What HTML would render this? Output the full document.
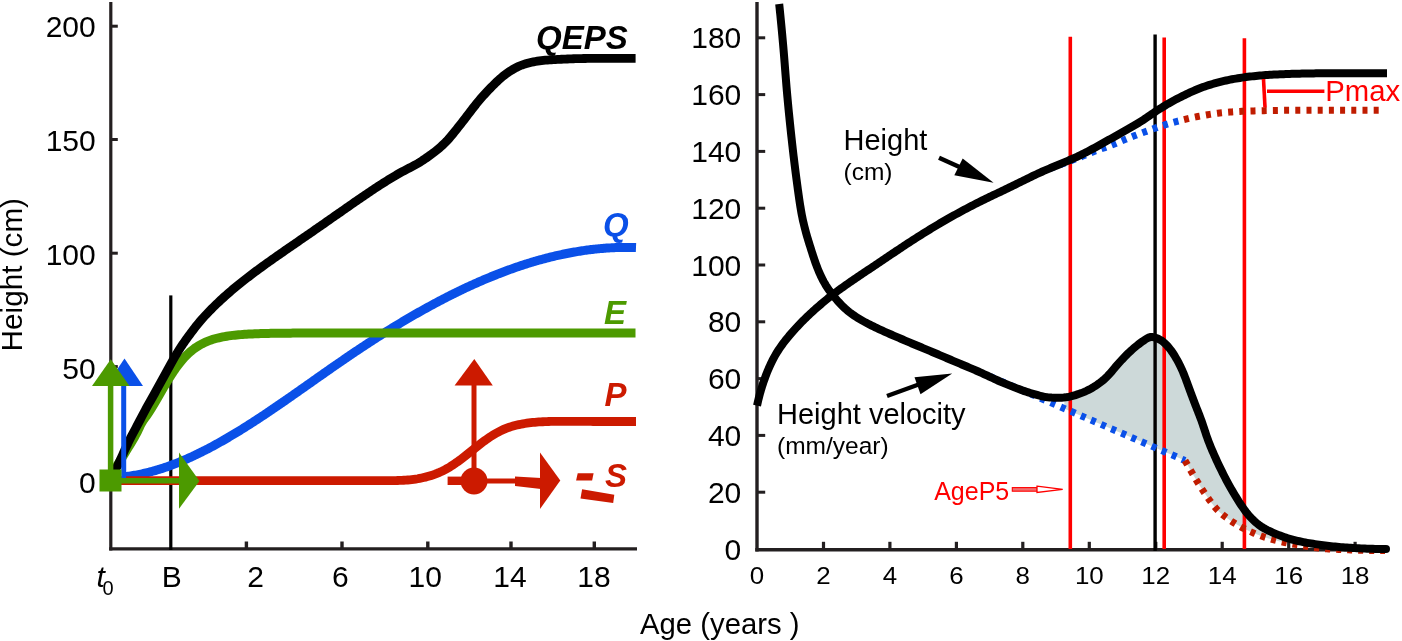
<!DOCTYPE html>
<html><head><meta charset="utf-8"><style>
html,body{margin:0;padding:0;background:#fff;}
body{width:1402px;height:641px;overflow:hidden;}
svg{display:block;font-family:'Liberation Sans', sans-serif;will-change:transform;}
</style></head><body>
<svg width="1402" height="641" viewBox="0 0 1402 641">
<rect width="1402" height="641" fill="#fff"/>
<path d="M1064.7,397.5 L1065.7,397.3 L1066.7,397.2 L1067.7,397.1 L1068.6,396.9 L1069.6,396.7 L1070.6,396.4 L1071.6,396.2 L1072.6,395.9 L1073.5,395.6 L1074.5,395.3 L1075.5,395.0 L1076.4,394.7 L1077.4,394.4 L1078.3,394.1 L1079.3,393.8 L1080.2,393.5 L1081.2,393.1 L1082.1,392.8 L1083.0,392.4 L1084.0,392.0 L1084.9,391.6 L1085.8,391.2 L1086.7,390.8 L1087.6,390.3 L1088.5,389.9 L1089.4,389.4 L1090.3,388.9 L1091.2,388.4 L1092.0,387.9 L1092.9,387.4 L1093.7,386.9 L1094.6,386.4 L1095.5,385.8 L1096.3,385.3 L1097.1,384.7 L1098.0,384.2 L1098.8,383.6 L1099.6,383.0 L1100.4,382.4 L1101.2,381.8 L1102.0,381.2 L1102.8,380.5 L1103.5,379.9 L1104.3,379.2 L1105.0,378.6 L1105.7,377.9 L1106.5,377.2 L1107.2,376.5 L1107.8,375.8 L1108.5,375.1 L1109.2,374.3 L1109.9,373.6 L1110.5,372.8 L1111.2,372.1 L1111.8,371.3 L1112.5,370.5 L1113.1,369.7 L1113.8,369.0 L1114.4,368.2 L1115.1,367.4 L1115.7,366.7 L1116.4,365.9 L1117.0,365.1 L1117.7,364.4 L1118.4,363.6 L1119.0,362.9 L1119.7,362.1 L1120.4,361.4 L1121.1,360.7 L1121.8,359.9 L1122.4,359.2 L1123.1,358.5 L1123.8,357.7 L1124.5,357.0 L1125.2,356.3 L1125.9,355.6 L1126.6,354.8 L1127.3,354.1 L1128.0,353.4 L1128.7,352.7 L1129.5,352.1 L1130.2,351.4 L1130.9,350.7 L1131.7,350.0 L1132.4,349.4 L1133.2,348.7 L1133.9,348.0 L1134.7,347.4 L1135.5,346.8 L1136.3,346.1 L1137.0,345.5 L1137.8,344.9 L1138.6,344.3 L1139.4,343.7 L1140.2,343.0 L1141.1,342.5 L1141.9,341.9 L1142.7,341.3 L1143.5,340.6 L1144.4,340.1 L1145.2,339.5 L1146.1,338.9 L1147.0,338.4 L1147.8,337.9 L1148.7,337.6 L1149.6,337.3 L1150.5,337.1 L1151.5,337.0 L1152.4,337.0 L1153.3,337.1 L1154.3,337.3 L1155.2,337.6 L1156.2,337.9 L1157.1,338.3 L1158.0,338.7 L1158.9,339.1 L1159.8,339.6 L1160.7,340.1 L1161.5,340.7 L1162.3,341.2 L1163.1,341.8 L1163.9,342.5 L1164.6,343.2 L1165.4,343.8 L1166.1,344.6 L1166.8,345.3 L1167.5,346.0 L1168.1,346.8 L1168.8,347.5 L1169.4,348.3 L1170.0,349.1 L1170.7,349.9 L1171.3,350.7 L1171.8,351.5 L1172.4,352.3 L1173.0,353.2 L1173.5,354.0 L1174.1,354.9 L1174.6,355.7 L1175.1,356.6 L1175.6,357.4 L1176.1,358.3 L1176.6,359.2 L1177.1,360.1 L1177.6,360.9 L1178.1,361.8 L1178.6,362.7 L1179.0,363.6 L1179.5,364.5 L1179.9,365.4 L1180.4,366.3 L1180.8,367.2 L1181.2,368.1 L1181.6,369.0 L1182.1,369.9 L1182.5,370.8 L1182.9,371.8 L1183.2,372.7 L1183.6,373.6 L1184.0,374.5 L1184.4,375.5 L1184.7,376.4 L1185.1,377.3 L1185.5,378.3 L1185.8,379.2 L1186.1,380.1 L1186.5,381.1 L1186.8,382.0 L1187.2,383.0 L1187.5,383.9 L1187.9,384.9 L1188.2,385.8 L1188.5,386.7 L1188.9,387.7 L1189.2,388.6 L1189.6,389.6 L1189.9,390.5 L1190.3,391.4 L1190.6,392.4 L1191.0,393.3 L1191.3,394.3 L1191.7,395.2 L1192.0,396.1 L1192.4,397.1 L1192.7,398.0 L1193.1,399.0 L1193.4,399.9 L1193.8,400.8 L1194.2,401.8 L1194.5,402.7 L1194.9,403.6 L1195.2,404.6 L1195.6,405.5 L1196.0,406.4 L1196.3,407.4 L1196.7,408.3 L1197.1,409.2 L1197.4,410.2 L1197.8,411.1 L1198.2,412.0 L1198.5,413.0 L1198.9,413.9 L1199.3,414.8 L1199.6,415.8 L1200.0,416.7 L1200.3,417.6 L1200.7,418.6 L1201.0,419.5 L1201.4,420.5 L1201.7,421.4 L1202.1,422.3 L1202.4,423.3 L1202.7,424.2 L1203.0,425.2 L1203.3,426.1 L1203.7,427.1 L1204.0,428.0 L1204.3,429.0 L1204.6,429.9 L1204.9,430.9 L1205.2,431.9 L1205.5,432.8 L1205.8,433.8 L1206.2,434.7 L1206.5,435.7 L1206.8,436.6 L1207.1,437.5 L1207.5,438.5 L1207.8,439.4 L1208.2,440.4 L1208.5,441.3 L1208.9,442.2 L1209.2,443.2 L1209.6,444.1 L1210.0,445.0 L1210.4,446.0 L1210.7,446.9 L1211.1,447.8 L1211.5,448.7 L1211.9,449.7 L1212.3,450.6 L1212.7,451.5 L1213.1,452.4 L1213.5,453.3 L1213.9,454.3 L1214.3,455.2 L1214.7,456.1 L1215.1,457.0 L1215.5,457.9 L1215.9,458.8 L1216.4,459.8 L1216.8,460.7 L1217.2,461.6 L1217.6,462.5 L1218.0,463.4 L1218.5,464.3 L1218.9,465.2 L1219.3,466.1 L1219.8,467.0 L1220.2,467.9 L1220.6,468.8 L1221.1,469.7 L1221.5,470.6 L1222.0,471.5 L1222.4,472.4 L1222.9,473.3 L1223.3,474.2 L1223.8,475.1 L1224.2,476.0 L1224.7,476.9 L1225.1,477.8 L1225.6,478.6 L1226.1,479.5 L1226.5,480.4 L1227.0,481.3 L1227.5,482.2 L1228.0,483.1 L1228.4,483.9 L1228.9,484.8 L1229.4,485.7 L1229.9,486.6 L1230.4,487.5 L1230.9,488.3 L1231.4,489.2 L1231.9,490.1 L1232.4,490.9 L1232.9,491.8 L1233.4,492.7 L1233.9,493.5 L1234.4,494.4 L1234.9,495.2 L1235.5,496.1 L1236.0,497.0 L1236.5,497.8 L1237.0,498.7 L1237.6,499.5 L1238.1,500.4 L1238.6,501.2 L1239.2,502.1 L1239.7,502.9 L1240.3,503.8 L1240.8,504.6 L1241.4,505.4 L1242.0,506.3 L1242.5,507.1 L1243.1,507.9 L1243.7,508.8 L1244.3,509.6 L1244.9,510.4 L1245.5,511.2 L1246.1,512.0 L1246.7,512.7 L1247.3,513.5 L1247.9,514.3 L1248.6,515.0 L1249.2,515.8 L1249.9,516.5 L1250.6,517.3 L1251.3,518.0 L1252.0,518.7 L1252.7,519.5 L1253.4,520.2 L1254.1,520.9 L1254.9,521.5 L1255.6,522.2 L1256.4,522.9 L1257.2,523.5 L1257.9,524.1 L1258.7,524.7 L1259.5,525.3 L1260.3,525.9 L1261.1,526.5 L1262.0,527.0 L1262.8,527.5 L1263.7,528.0 L1264.5,528.5 L1265.4,529.0 L1266.3,529.5 L1267.2,530.0 L1268.1,530.4 L1269.0,530.9 L1269.9,531.3 L1270.8,531.7 L1271.7,532.1 L1272.7,532.6 L1273.6,533.0 L1274.5,533.4 L1275.4,533.7 L1276.3,534.1 L1277.3,534.5 L1278.2,534.9 L1279.1,535.2 L1280.1,535.6 L1281.0,535.9 L1282.0,536.3 L1282.9,536.6 L1283.9,537.0 L1284.8,537.3 L1285.8,537.6 L1286.7,537.9 L1287.7,538.2 L1288.6,538.5 L1289.6,538.8 L1290.6,539.1 L1291.5,539.3 L1292.5,539.6 L1293.5,539.9 L1294.4,540.1 L1295.4,540.3 L1296.4,540.6 L1297.3,540.8 L1298.3,541.0 L1299.3,541.3 L1300.3,541.5 L1301.3,541.7 L1302.2,541.9 L1303.2,542.1 L1304.2,542.3 L1305.2,542.5 L1306.2,542.7 L1307.2,542.8 L1308.2,543.0 L1309.1,543.2 L1310.1,543.3 L1311.1,543.5 L1312.1,543.7 L1313.1,543.8 L1314.1,544.0 L1315.1,544.1 L1316.1,544.2 L1317.1,544.4 L1318.0,544.5 L1319.0,544.7 L1320.0,544.8 L1321.0,544.9 L1322.0,545.1 L1323.0,545.2 L1324.0,545.3 L1325.0,545.5 L1326.0,545.6 L1327.0,545.7 L1328.0,545.8 L1329.0,545.9 L1330.0,546.1 L1331.0,546.2 L1332.0,546.3 L1333.0,546.4 L1334.0,546.5 L1335.0,546.6 L1336.0,546.7 L1337.0,546.8 L1338.0,546.9 L1339.0,547.0 L1340.0,547.1 L1341.0,547.2 L1342.0,547.2 L1343.0,547.3 L1344.0,547.4 L1345.0,547.5 L1346.0,547.5 L1347.0,547.6 L1348.0,547.7 L1349.0,547.7 L1350.0,547.8 L1351.0,547.8 L1351.9,547.9 L1352.9,547.9 L1353.9,548.0 L1354.9,548.1 L1355.9,548.1 L1356.9,548.2 L1357.9,548.2 L1358.9,548.3 L1359.9,548.3 L1360.9,548.4 L1361.9,548.4 L1362.9,548.5 L1363.9,548.5 L1364.9,548.6 L1366.0,548.6 L1367.0,548.6 L1368.0,548.7 L1369.0,548.7 L1370.0,548.8 L1371.0,548.8 L1372.0,548.8 L1373.0,548.9 L1374.0,548.9 L1375.0,548.9 L1376.0,549.0 L1377.0,549.0 L1378.0,549.0 L1379.0,549.0 L1380.0,549.0 L1381.0,549.1 L1382.0,549.1 L1383.0,549.1 L1384.0,549.1 L1385.0,549.1 L1386.0,549.1 L1386.0,551.0 L1385.0,550.6 L1384.0,550.6 L1383.0,550.6 L1382.0,550.6 L1381.0,550.6 L1379.9,550.6 L1378.9,550.6 L1377.9,550.6 L1376.9,550.6 L1375.9,550.5 L1374.9,550.5 L1373.9,550.5 L1372.9,550.5 L1371.9,550.5 L1370.9,550.5 L1369.8,550.5 L1368.8,550.4 L1367.8,550.4 L1366.8,550.4 L1365.8,550.4 L1364.8,550.3 L1363.8,550.3 L1362.8,550.3 L1361.8,550.3 L1360.8,550.2 L1359.8,550.2 L1358.8,550.2 L1357.7,550.2 L1356.7,550.1 L1355.7,550.1 L1354.7,550.1 L1353.7,550.0 L1352.7,550.0 L1351.7,550.0 L1350.7,549.9 L1349.7,549.9 L1348.7,549.8 L1347.7,549.8 L1346.7,549.8 L1345.7,549.7 L1344.7,549.7 L1343.7,549.6 L1342.7,549.6 L1341.7,549.6 L1340.7,549.5 L1339.7,549.5 L1338.6,549.4 L1337.6,549.4 L1336.6,549.3 L1335.6,549.3 L1334.6,549.2 L1333.6,549.2 L1332.6,549.1 L1331.6,549.1 L1330.6,549.0 L1329.6,549.0 L1328.6,548.9 L1327.6,548.8 L1326.6,548.8 L1325.6,548.7 L1324.6,548.6 L1323.6,548.5 L1322.6,548.4 L1321.6,548.3 L1320.6,548.2 L1319.6,548.1 L1318.6,548.0 L1317.6,547.9 L1316.6,547.8 L1315.6,547.6 L1314.6,547.5 L1313.6,547.4 L1312.6,547.2 L1311.6,547.1 L1310.6,546.9 L1309.6,546.8 L1308.6,546.6 L1307.6,546.5 L1306.6,546.3 L1305.6,546.1 L1304.6,546.0 L1303.6,545.8 L1302.6,545.7 L1301.6,545.5 L1300.6,545.3 L1299.6,545.1 L1298.7,545.0 L1297.7,544.8 L1296.7,544.6 L1295.7,544.5 L1294.7,544.3 L1293.7,544.1 L1292.7,543.9 L1291.7,543.8 L1290.7,543.6 L1289.7,543.4 L1288.7,543.2 L1287.7,543.0 L1286.7,542.9 L1285.8,542.7 L1284.8,542.5 L1283.8,542.3 L1282.8,542.1 L1281.8,541.8 L1280.8,541.6 L1279.8,541.4 L1278.9,541.2 L1277.9,541.0 L1276.9,540.7 L1275.9,540.5 L1274.9,540.2 L1274.0,540.0 L1273.0,539.7 L1272.0,539.5 L1271.1,539.2 L1270.1,538.9 L1269.1,538.6 L1268.2,538.4 L1267.2,538.1 L1266.2,537.7 L1265.3,537.4 L1264.3,537.1 L1263.4,536.8 L1262.4,536.4 L1261.5,536.1 L1260.5,535.8 L1259.6,535.4 L1258.6,535.0 L1257.7,534.7 L1256.7,534.3 L1255.8,533.9 L1254.9,533.6 L1254.0,533.2 L1253.0,532.8 L1252.1,532.4 L1251.2,532.0 L1250.3,531.6 L1249.3,531.2 L1248.4,530.7 L1247.5,530.3 L1246.6,529.9 L1245.7,529.4 L1244.8,529.0 L1243.9,528.5 L1243.0,528.1 L1242.1,527.6 L1241.2,527.1 L1240.3,526.6 L1239.4,526.1 L1238.6,525.6 L1237.7,525.1 L1236.8,524.6 L1236.0,524.1 L1235.1,523.6 L1234.3,523.1 L1233.4,522.5 L1232.5,522.0 L1231.7,521.4 L1230.9,520.9 L1230.0,520.3 L1229.2,519.7 L1228.3,519.1 L1227.5,518.5 L1226.7,517.9 L1225.9,517.3 L1225.1,516.7 L1224.3,516.1 L1223.5,515.5 L1222.7,514.8 L1221.9,514.2 L1221.2,513.5 L1220.4,512.9 L1219.7,512.2 L1218.9,511.5 L1218.2,510.8 L1217.5,510.1 L1216.8,509.4 L1216.2,508.7 L1215.5,507.9 L1214.9,507.2 L1214.2,506.4 L1213.6,505.6 L1213.0,504.8 L1212.4,504.0 L1211.7,503.2 L1211.1,502.4 L1210.5,501.6 L1210.0,500.7 L1209.4,499.9 L1208.8,499.1 L1208.2,498.3 L1207.6,497.4 L1207.0,496.6 L1206.5,495.8 L1205.9,495.0 L1205.3,494.1 L1204.7,493.3 L1204.2,492.5 L1203.6,491.6 L1203.1,490.8 L1202.5,489.9 L1202.0,489.1 L1201.4,488.2 L1200.9,487.4 L1200.3,486.5 L1199.8,485.7 L1199.2,484.8 L1198.7,484.0 L1198.2,483.1 L1197.7,482.3 L1197.1,481.4 L1196.6,480.6 L1196.1,479.7 L1195.6,478.8 L1195.1,478.0 L1194.5,477.1 L1194.0,476.2 L1193.5,475.4 L1193.0,474.5 L1192.5,473.6 L1192.0,472.7 L1191.5,471.9 L1191.0,471.0 L1190.5,470.1 L1190.0,469.2 L1189.5,468.4 L1189.0,467.5 L1188.5,466.6 L1188.0,465.8 L1187.5,464.9 L1187.0,464.0 L1186.5,463.1 L1186.0,462.3 L1185.5,461.4 L1185.0,460.5 L1185.0,460.5 L1064.0,408.4 Z" fill="#cdd9d9" stroke="none"/>
<line x1="110.8" y1="2" x2="110.8" y2="550.5" stroke="#231f20" stroke-width="3.2"/>
<line x1="109.2" y1="548.9" x2="637" y2="548.9" stroke="#231f20" stroke-width="3.4"/>
<line x1="110.8" y1="26.2" x2="117.8" y2="26.2" stroke="#231f20" stroke-width="3"/>
<line x1="110.8" y1="139.5" x2="117.8" y2="139.5" stroke="#231f20" stroke-width="3"/>
<line x1="110.8" y1="253.2" x2="117.8" y2="253.2" stroke="#231f20" stroke-width="3"/>
<line x1="110.8" y1="366.6" x2="117.8" y2="366.6" stroke="#231f20" stroke-width="3"/>
<line x1="110.8" y1="480" x2="117.8" y2="480" stroke="#231f20" stroke-width="3"/>
<line x1="246.4" y1="541.5" x2="246.4" y2="548.9" stroke="#231f20" stroke-width="3.4"/>
<line x1="342" y1="541.5" x2="342" y2="548.9" stroke="#231f20" stroke-width="3.4"/>
<line x1="427.8" y1="541.5" x2="427.8" y2="548.9" stroke="#231f20" stroke-width="3.4"/>
<line x1="511" y1="541.5" x2="511" y2="548.9" stroke="#231f20" stroke-width="3.4"/>
<line x1="594.3" y1="541.5" x2="594.3" y2="548.9" stroke="#231f20" stroke-width="3.4"/>
<line x1="170.8" y1="295.4" x2="170.8" y2="550" stroke="#000" stroke-width="3.2"/>
<text x="95.7" y="37.1" text-anchor="end" font-size="30" fill="#000">200</text>
<text x="95.7" y="151.2" text-anchor="end" font-size="30" fill="#000">150</text>
<text x="95.7" y="264.8" text-anchor="end" font-size="30" fill="#000">100</text>
<text x="95.7" y="379.3" text-anchor="end" font-size="30" fill="#000">50</text>
<text x="95.7" y="493.0" text-anchor="end" font-size="30" fill="#000">0</text>
<text x="96.5" y="587" font-size="30" font-style="italic" fill="#000">t</text>
<text x="102.5" y="594.5" font-size="20" fill="#000">0</text>
<text x="171.8" y="586.5" text-anchor="middle" font-size="30" fill="#000">B</text>
<text x="255.6" y="586.5" text-anchor="middle" font-size="30" fill="#000">2</text>
<text x="340.3" y="586.5" text-anchor="middle" font-size="30" fill="#000">6</text>
<text x="425.3" y="586.5" text-anchor="middle" font-size="30" fill="#000">10</text>
<text x="510" y="586.5" text-anchor="middle" font-size="30" fill="#000">14</text>
<text x="594" y="586.5" text-anchor="middle" font-size="30" fill="#000">18</text>
<text transform="translate(21.8,351.4) rotate(-90)" font-size="29.7" fill="#000">Height (cm)</text>
<path d="M124.30,476.72 L125.58,476.58 L126.86,476.43 L128.15,476.26 L129.43,476.09 L130.71,475.91 L131.99,475.71 L133.28,475.51 L134.56,475.29 L135.84,475.07 L137.12,474.84 L138.41,474.59 L139.69,474.34 L140.97,474.08 L142.25,473.80 L143.54,473.52 L144.82,473.23 L146.10,472.93 L147.38,472.62 L148.67,472.30 L149.95,471.97 L151.23,471.63 L152.51,471.28 L153.80,470.93 L155.08,470.56 L156.36,470.19 L157.64,469.81 L158.93,469.42 L160.21,469.02 L161.49,468.61 L162.77,468.19 L164.06,467.77 L165.34,467.34 L166.62,466.90 L167.90,466.45 L169.19,465.99 L170.47,465.52 L171.75,465.05 L173.03,464.57 L174.32,464.08 L175.60,463.59 L176.88,463.08 L178.16,462.57 L179.45,462.05 L180.73,461.52 L182.01,460.99 L183.29,460.45 L184.58,459.90 L185.86,459.35 L187.14,458.78 L188.42,458.21 L189.71,457.64 L190.99,457.06 L192.27,456.47 L193.55,455.87 L194.84,455.27 L196.12,454.66 L197.40,454.04 L198.68,453.42 L199.96,452.79 L201.25,452.15 L202.53,451.51 L203.81,450.86 L205.09,450.21 L206.38,449.55 L207.66,448.89 L208.94,448.21 L210.22,447.54 L211.51,446.86 L212.79,446.17 L214.07,445.47 L215.35,444.77 L216.64,444.07 L217.92,443.36 L219.20,442.64 L220.48,441.92 L221.77,441.20 L223.05,440.47 L224.33,439.73 L225.61,438.99 L226.90,438.25 L228.18,437.50 L229.46,436.74 L230.74,435.98 L232.03,435.22 L233.31,434.45 L234.59,433.68 L235.87,432.90 L237.16,432.12 L238.44,431.34 L239.72,430.55 L241.00,429.76 L242.29,428.96 L243.57,428.16 L244.85,427.35 L246.13,426.54 L247.42,425.73 L248.70,424.92 L249.98,424.10 L251.26,423.28 L252.55,422.45 L253.83,421.62 L255.11,420.79 L256.39,419.95 L257.68,419.11 L258.96,418.27 L260.24,417.43 L261.52,416.58 L262.81,415.73 L264.09,414.88 L265.37,414.02 L266.65,413.16 L267.94,412.30 L269.22,411.44 L270.50,410.57 L271.78,409.70 L273.06,408.83 L274.35,407.96 L275.63,407.09 L276.91,406.21 L278.19,405.33 L279.48,404.45 L280.76,403.57 L282.04,402.69 L283.32,401.80 L284.61,400.92 L285.89,400.03 L287.17,399.14 L288.45,398.25 L289.74,397.36 L291.02,396.46 L292.30,395.57 L293.58,394.67 L294.87,393.78 L296.15,392.88 L297.43,391.98 L298.71,391.08 L300.00,390.18 L301.28,389.28 L302.56,388.38 L303.84,387.48 L305.13,386.58 L306.41,385.67 L307.69,384.77 L308.97,383.87 L310.26,382.97 L311.54,382.06 L312.82,381.16 L314.10,380.26 L315.39,379.36 L316.67,378.45 L317.95,377.55 L319.23,376.65 L320.52,375.75 L321.80,374.85 L323.08,373.95 L324.36,373.05 L325.65,372.15 L326.93,371.25 L328.21,370.36 L329.49,369.46 L330.78,368.57 L332.06,367.67 L333.34,366.78 L334.62,365.89 L335.91,365.00 L337.19,364.11 L338.47,363.23 L339.75,362.34 L341.04,361.46 L342.32,360.57 L343.60,359.69 L344.88,358.82 L346.16,357.94 L347.45,357.06 L348.73,356.19 L350.01,355.32 L351.29,354.45 L352.58,353.59 L353.86,352.72 L355.14,351.86 L356.42,351.00 L357.71,350.15 L358.99,349.29 L360.27,348.44 L361.55,347.59 L362.84,346.74 L364.12,345.90 L365.40,345.05 L366.68,344.21 L367.97,343.37 L369.25,342.54 L370.53,341.71 L371.81,340.88 L373.10,340.05 L374.38,339.22 L375.66,338.40 L376.94,337.58 L378.23,336.76 L379.51,335.94 L380.79,335.13 L382.07,334.32 L383.36,333.51 L384.64,332.71 L385.92,331.90 L387.20,331.10 L388.49,330.31 L389.77,329.51 L391.05,328.72 L392.33,327.93 L393.62,327.15 L394.90,326.36 L396.18,325.58 L397.46,324.80 L398.75,324.03 L400.03,323.26 L401.31,322.49 L402.59,321.72 L403.88,320.96 L405.16,320.20 L406.44,319.44 L407.72,318.69 L409.01,317.93 L410.29,317.19 L411.57,316.44 L412.85,315.70 L414.14,314.96 L415.42,314.22 L416.70,313.49 L417.98,312.76 L419.26,312.03 L420.55,311.30 L421.83,310.58 L423.11,309.87 L424.39,309.15 L425.68,308.44 L426.96,307.73 L428.24,307.03 L429.52,306.32 L430.81,305.62 L432.09,304.93 L433.37,304.24 L434.65,303.55 L435.94,302.86 L437.22,302.18 L438.50,301.50 L439.78,300.83 L441.07,300.15 L442.35,299.48 L443.63,298.82 L444.91,298.16 L446.20,297.50 L447.48,296.84 L448.76,296.19 L450.04,295.54 L451.33,294.90 L452.61,294.26 L453.89,293.62 L455.17,292.99 L456.46,292.36 L457.74,291.73 L459.02,291.11 L460.30,290.49 L461.59,289.87 L462.87,289.26 L464.15,288.65 L465.43,288.05 L466.72,287.45 L468.00,286.85 L469.28,286.26 L470.56,285.67 L471.85,285.08 L473.13,284.50 L474.41,283.92 L475.69,283.35 L476.98,282.78 L478.26,282.21 L479.54,281.65 L480.82,281.09 L482.11,280.54 L483.39,279.99 L484.67,279.44 L485.95,278.90 L487.24,278.36 L488.52,277.82 L489.80,277.29 L491.08,276.77 L492.36,276.24 L493.65,275.73 L494.93,275.21 L496.21,274.70 L497.49,274.19 L498.78,273.69 L500.06,273.19 L501.34,272.70 L502.62,272.21 L503.91,271.73 L505.19,271.25 L506.47,270.77 L507.75,270.30 L509.04,269.83 L510.32,269.36 L511.60,268.91 L512.88,268.45 L514.17,268.00 L515.45,267.55 L516.73,267.11 L518.01,266.67 L519.30,266.24 L520.58,265.81 L521.86,265.39 L523.14,264.97 L524.43,264.55 L525.71,264.14 L526.99,263.74 L528.27,263.33 L529.56,262.94 L530.84,262.54 L532.12,262.16 L533.40,261.77 L534.69,261.39 L535.97,261.02 L537.25,260.65 L538.53,260.29 L539.82,259.93 L541.10,259.57 L542.38,259.22 L543.66,258.87 L544.95,258.53 L546.23,258.20 L547.51,257.87 L548.79,257.54 L550.08,257.22 L551.36,256.90 L552.64,256.59 L553.92,256.28 L555.21,255.98 L556.49,255.68 L557.77,255.39 L559.05,255.10 L560.34,254.82 L561.62,254.54 L562.90,254.27 L564.18,254.00 L565.46,253.74 L566.75,253.48 L568.03,253.23 L569.31,252.98 L570.59,252.74 L571.88,252.50 L573.16,252.27 L574.44,252.05 L575.72,251.83 L577.01,251.61 L578.29,251.40 L579.57,251.19 L580.85,250.99 L582.14,250.80 L583.42,250.61 L584.70,250.42 L585.98,250.24 L587.27,250.07 L588.55,249.90 L589.83,249.74 L591.11,249.58 L592.40,249.43 L593.68,249.28 L594.96,249.14 L596.24,249.00 L597.53,248.87 L598.81,248.74 L600.09,248.63 L601.37,248.51 L602.66,248.40 L603.94,248.30 L605.22,248.20 L606.50,248.11 L607.79,248.02 L609.07,247.94 L610.35,247.87 L611.63,247.80 L612.92,247.73 L614.20,247.68 L615.48,247.62 L616.76,247.58 L618.05,247.54 L619.33,247.50 L620.61,247.47 L621.89,247.45 L623.18,247.43 L624.46,247.42 L625.74,247.41 L627.02,247.41 L628.31,247.42 L629.59,247.43 L630.87,247.45 L632.15,247.47 L633.44,247.50 L634.72,247.53 L636.00,247.58" fill="none" stroke="#0a50e8" stroke-width="9"/>
<path d="M113.50,471.00 L114.61,469.33 L115.71,467.65 L116.80,465.97 L117.89,464.29 L118.97,462.60 L120.05,460.91 L121.12,459.22 L122.18,457.52 L123.24,455.81 L124.29,454.11 L125.33,452.39 L126.37,450.68 L127.41,448.97 L128.45,447.25 L129.50,445.54 L130.54,443.83 L131.58,442.11 L132.61,440.39 L133.63,438.66 L134.63,436.93 L135.60,435.18 L136.55,433.41 L137.45,431.62 L138.32,429.80 L139.18,427.98 L140.04,426.16 L140.93,424.37 L141.87,422.61 L142.89,420.90 L144.01,419.25 L145.19,417.63 L146.38,416.01 L147.53,414.37 L148.65,412.71 L149.75,411.03 L150.83,409.34 L151.89,407.64 L152.94,405.94 L153.98,404.22 L155.01,402.50 L156.02,400.77 L157.04,399.04 L158.04,397.31 L159.04,395.57 L160.04,393.83 L161.04,392.09 L162.04,390.36 L163.04,388.62 L164.04,386.88 L165.05,385.15 L166.07,383.42 L167.09,381.70 L168.13,379.98 L169.17,378.27 L170.23,376.57 L171.30,374.88 L172.39,373.20 L173.50,371.53 L174.63,369.87 L175.78,368.22 L176.95,366.60 L178.15,364.99 L179.37,363.40 L180.62,361.84 L181.91,360.30 L183.23,358.79 L184.58,357.31 L185.96,355.86 L187.39,354.45 L188.85,353.08 L190.35,351.75 L191.89,350.47 L193.47,349.24 L195.08,348.05 L196.74,346.93 L198.43,345.85 L200.16,344.84 L201.92,343.88 L203.71,342.98 L205.53,342.14 L207.37,341.36 L209.24,340.63 L211.13,339.96 L213.03,339.34 L214.95,338.76 L216.89,338.24 L218.83,337.76 L220.79,337.32 L222.75,336.92 L224.72,336.55 L226.70,336.22 L228.68,335.92 L230.67,335.64 L232.66,335.39 L234.65,335.17 L236.64,334.96 L238.64,334.78 L240.63,334.61 L242.63,334.45 L244.63,334.32 L246.63,334.19 L248.63,334.08 L250.64,333.97 L252.64,333.88 L254.64,333.80 L256.64,333.72 L258.65,333.65 L260.65,333.59 L262.66,333.53 L264.66,333.48 L266.66,333.44 L268.67,333.39 L270.67,333.36 L272.68,333.32 L274.68,333.29 L276.68,333.26 L278.69,333.24 L280.69,333.21 L282.70,333.19 L284.70,333.18 L286.71,333.16 L288.71,333.14 L290.72,333.13 L292.72,333.12 L294.73,333.11 L296.73,333.10 L298.73,333.09 L300.74,333.08 L302.74,333.07 L304.75,333.07 L306.75,333.06 L308.76,333.06 L310.76,333.05 L312.77,333.04 L314.77,333.04 L316.78,333.03 L318.78,333.03 L320.78,333.02 L322.79,333.02 L324.79,333.01 L326.80,333.01 L328.80,333.00 L330.81,333.00 L332.81,332.99 L334.82,332.99 L336.82,332.98 L338.83,332.98 L340.83,332.97 L342.83,332.97 L344.84,332.96 L346.84,332.96 L348.85,332.96 L350.85,332.95 L352.86,332.95 L354.86,332.94 L356.87,332.94 L358.87,332.94 L360.88,332.93 L362.88,332.93 L364.88,332.93 L366.89,332.92 L368.89,332.92 L370.90,332.92 L372.90,332.92 L374.91,332.91 L376.91,332.91 L378.92,332.91 L380.92,332.91 L382.93,332.91 L384.93,332.91 L386.93,332.90 L388.94,332.90 L390.94,332.90 L392.95,332.90 L394.95,332.90 L396.96,332.90 L398.96,332.90 L400.97,332.90 L402.97,332.90 L404.98,332.90 L406.98,332.90 L408.98,332.90 L410.99,332.90 L412.99,332.90 L415.00,332.90 L417.00,332.90 L419.01,332.90 L421.01,332.90 L423.02,332.90 L425.02,332.90 L427.03,332.90 L429.03,332.90 L431.03,332.90 L433.04,332.90 L435.04,332.90 L437.05,332.90 L439.05,332.90 L441.06,332.90 L443.06,332.90 L445.07,332.90 L447.07,332.90 L449.08,332.90 L451.08,332.90 L453.09,332.90 L455.09,332.90 L457.09,332.90 L459.10,332.90 L461.10,332.90 L463.11,332.90 L465.11,332.90 L467.12,332.90 L469.12,332.90 L471.13,332.90 L473.13,332.90 L475.14,332.90 L477.14,332.90 L479.14,332.90 L481.15,332.90 L483.15,332.90 L485.16,332.90 L487.16,332.90 L489.17,332.90 L491.17,332.90 L493.18,332.90 L495.18,332.90 L497.19,332.90 L499.19,332.90 L501.19,332.90 L503.20,332.90 L505.20,332.90 L507.21,332.90 L509.21,332.90 L511.22,332.90 L513.22,332.90 L515.23,332.90 L517.23,332.90 L519.24,332.90 L521.24,332.90 L523.24,332.90 L525.25,332.90 L527.25,332.90 L529.26,332.90 L531.26,332.90 L533.27,332.90 L535.27,332.90 L537.28,332.90 L539.28,332.90 L541.29,332.90 L543.29,332.90 L545.29,332.90 L547.30,332.90 L549.30,332.90 L551.31,332.90 L553.31,332.90 L555.32,332.90 L557.32,332.90 L559.33,332.90 L561.33,332.90 L563.34,332.90 L565.34,332.90 L567.34,332.90 L569.35,332.90 L571.35,332.90 L573.36,332.90 L575.36,332.90 L577.37,332.90 L579.37,332.90 L581.38,332.90 L583.38,332.90 L585.39,332.90 L587.39,332.90 L589.40,332.90 L591.40,332.90 L593.40,332.90 L595.41,332.90 L597.41,332.90 L599.42,332.90 L601.42,332.90 L603.43,332.90 L605.43,332.90 L607.44,332.90 L609.44,332.90 L611.45,332.90 L613.45,332.90 L615.45,332.90 L617.46,332.90 L619.46,332.90 L621.47,332.90 L623.47,332.90 L625.48,332.90 L627.48,332.90 L629.49,332.90 L631.49,332.90 L633.50,332.90 L635.50,332.90 L635.50,332.90" fill="none" stroke="#4c9a00" stroke-width="9"/>
<path d="M113.00,480.70 L115.01,480.70 L117.01,480.70 L119.02,480.70 L121.02,480.70 L123.03,480.70 L125.03,480.70 L127.04,480.70 L129.04,480.70 L131.05,480.70 L133.05,480.70 L135.06,480.70 L137.06,480.70 L139.07,480.70 L141.07,480.70 L143.08,480.70 L145.08,480.70 L147.09,480.70 L149.09,480.70 L151.10,480.70 L153.10,480.70 L155.11,480.70 L157.11,480.70 L159.12,480.70 L161.12,480.70 L163.13,480.70 L165.13,480.70 L167.14,480.70 L169.14,480.70 L171.15,480.70 L173.15,480.70 L175.16,480.70 L177.16,480.70 L179.17,480.70 L181.17,480.70 L183.18,480.70 L185.18,480.70 L187.19,480.70 L189.19,480.70 L191.20,480.70 L193.20,480.70 L195.21,480.70 L197.21,480.70 L199.22,480.70 L201.22,480.70 L203.23,480.70 L205.23,480.70 L207.24,480.70 L209.24,480.70 L211.25,480.70 L213.26,480.70 L215.26,480.70 L217.27,480.70 L219.27,480.70 L221.28,480.70 L223.28,480.70 L225.29,480.70 L227.29,480.70 L229.30,480.70 L231.30,480.70 L233.31,480.70 L235.31,480.70 L237.32,480.70 L239.32,480.70 L241.33,480.70 L243.33,480.70 L245.34,480.70 L247.34,480.70 L249.35,480.70 L251.35,480.70 L253.36,480.70 L255.36,480.70 L257.37,480.70 L259.37,480.70 L261.38,480.70 L263.38,480.70 L265.39,480.70 L267.39,480.70 L269.40,480.70 L271.40,480.70 L273.41,480.70 L275.41,480.70 L277.42,480.70 L279.42,480.70 L281.43,480.70 L283.43,480.70 L285.44,480.70 L287.44,480.70 L289.45,480.70 L291.45,480.70 L293.46,480.70 L295.46,480.70 L297.47,480.70 L299.47,480.70 L301.48,480.70 L303.48,480.70 L305.49,480.70 L307.50,480.70 L309.50,480.70 L311.51,480.70 L313.51,480.70 L315.52,480.70 L317.52,480.70 L319.53,480.70 L321.53,480.70 L323.54,480.70 L325.54,480.70 L327.55,480.69 L329.56,480.69 L331.56,480.69 L333.57,480.69 L335.57,480.69 L337.58,480.69 L339.58,480.69 L341.59,480.69 L343.59,480.68 L345.60,480.68 L347.60,480.68 L349.61,480.68 L351.62,480.68 L353.62,480.68 L355.63,480.67 L357.63,480.67 L359.64,480.67 L361.64,480.67 L363.65,480.66 L365.65,480.66 L367.66,480.66 L369.66,480.65 L371.67,480.65 L373.67,480.65 L375.68,480.64 L377.68,480.64 L379.69,480.64 L381.69,480.63 L383.69,480.63 L385.70,480.62 L387.70,480.62 L389.71,480.61 L391.71,480.59 L393.72,480.57 L395.72,480.54 L397.73,480.50 L399.73,480.44 L401.73,480.36 L403.74,480.26 L405.74,480.14 L407.74,479.99 L409.73,479.82 L411.72,479.61 L413.71,479.36 L415.70,479.08 L417.68,478.76 L419.65,478.39 L421.62,478.00 L423.57,477.57 L425.52,477.10 L427.46,476.59 L429.39,476.04 L431.31,475.45 L433.21,474.82 L435.10,474.15 L436.97,473.43 L438.82,472.67 L440.65,471.86 L442.46,471.01 L444.24,470.12 L446.00,469.17 L447.74,468.18 L449.46,467.15 L451.17,466.08 L452.86,464.99 L454.53,463.87 L456.18,462.73 L457.82,461.58 L459.44,460.40 L461.04,459.20 L462.63,457.98 L464.21,456.75 L465.79,455.50 L467.36,454.25 L468.92,452.99 L470.49,451.73 L472.06,450.48 L473.63,449.23 L475.20,447.97 L476.77,446.72 L478.35,445.48 L479.93,444.24 L481.52,443.01 L483.12,441.81 L484.73,440.62 L486.36,439.45 L488.00,438.32 L489.67,437.20 L491.35,436.11 L493.05,435.05 L494.77,434.01 L496.51,433.00 L498.26,432.03 L500.04,431.10 L501.83,430.22 L503.65,429.39 L505.49,428.62 L507.36,427.90 L509.24,427.24 L511.15,426.63 L513.07,426.07 L515.01,425.55 L516.95,425.08 L518.91,424.64 L520.88,424.23 L522.85,423.86 L524.82,423.52 L526.81,423.22 L528.79,422.94 L530.78,422.70 L532.77,422.48 L534.77,422.28 L536.76,422.11 L538.76,421.97 L540.77,421.85 L542.77,421.74 L544.77,421.65 L546.77,421.58 L548.78,421.51 L550.78,421.46 L552.79,421.41 L554.79,421.38 L556.80,421.35 L558.80,421.33 L560.81,421.32 L562.81,421.32 L564.82,421.32 L566.82,421.32 L568.83,421.33 L570.83,421.34 L572.84,421.35 L574.84,421.36 L576.85,421.38 L578.85,421.39 L580.86,421.41 L582.86,421.42 L584.87,421.43 L586.87,421.45 L588.88,421.46 L590.89,421.47 L592.89,421.48 L594.90,421.48 L596.90,421.49 L598.91,421.49 L600.91,421.50 L602.92,421.50 L604.92,421.50 L606.93,421.50 L608.93,421.50 L610.94,421.50 L612.94,421.50 L614.95,421.50 L616.95,421.50 L618.96,421.50 L620.96,421.50 L622.97,421.50 L624.97,421.50 L626.98,421.50 L628.98,421.50 L630.99,421.50 L632.99,421.50 L635.00,421.50 L636.00,421.50" fill="none" stroke="#cc1a00" stroke-width="8.8"/>
<path d="M114.36,470.93 L115.47,469.26 L116.52,467.56 L117.50,465.83 L118.42,464.05 L119.28,462.25 L120.11,460.43 L120.93,458.59 L121.73,456.76 L122.54,454.92 L123.36,453.09 L124.19,451.26 L125.03,449.44 L125.87,447.62 L126.73,445.80 L127.60,444.00 L128.47,442.19 L129.36,440.39 L130.26,438.60 L131.17,436.82 L132.09,435.04 L133.03,433.27 L133.97,431.50 L134.91,429.73 L135.86,427.96 L136.81,426.19 L137.75,424.42 L138.68,422.65 L139.61,420.87 L140.54,419.09 L141.47,417.32 L142.40,415.54 L143.33,413.77 L144.27,412.00 L145.22,410.23 L146.18,408.47 L147.15,406.72 L148.13,404.97 L149.11,403.22 L150.10,401.47 L151.09,399.73 L152.07,397.98 L153.06,396.24 L154.04,394.49 L155.02,392.74 L155.99,390.98 L156.96,389.23 L157.93,387.47 L158.89,385.72 L159.86,383.96 L160.83,382.20 L161.79,380.45 L162.76,378.69 L163.72,376.93 L164.69,375.17 L165.65,373.42 L166.61,371.66 L167.57,369.90 L168.53,368.14 L169.50,366.38 L170.46,364.62 L171.43,362.87 L172.41,361.11 L173.39,359.37 L174.38,357.62 L175.39,355.89 L176.41,354.16 L177.44,352.45 L178.50,350.74 L179.57,349.05 L180.67,347.38 L181.78,345.71 L182.91,344.05 L184.05,342.40 L185.20,340.76 L186.37,339.13 L187.54,337.50 L188.72,335.88 L189.91,334.27 L191.11,332.66 L192.31,331.06 L193.53,329.46 L194.75,327.87 L195.98,326.29 L197.23,324.72 L198.49,323.17 L199.78,321.63 L201.08,320.11 L202.40,318.60 L203.75,317.11 L205.10,315.64 L206.48,314.18 L207.86,312.73 L209.25,311.29 L210.66,309.85 L212.07,308.43 L213.49,307.01 L214.92,305.61 L216.36,304.21 L217.81,302.83 L219.26,301.45 L220.73,300.08 L222.20,298.72 L223.69,297.37 L225.18,296.03 L226.68,294.70 L228.18,293.38 L229.70,292.06 L231.22,290.76 L232.75,289.46 L234.28,288.17 L235.82,286.89 L237.37,285.62 L238.93,284.35 L240.49,283.09 L242.05,281.84 L243.63,280.60 L245.21,279.36 L246.79,278.13 L248.38,276.91 L249.97,275.69 L251.57,274.48 L253.17,273.27 L254.77,272.07 L256.38,270.88 L258.00,269.69 L259.61,268.50 L261.24,267.32 L262.86,266.15 L264.48,264.97 L266.11,263.80 L267.74,262.64 L269.38,261.48 L271.01,260.32 L272.65,259.16 L274.29,258.01 L275.93,256.86 L277.58,255.71 L279.22,254.56 L280.87,253.41 L282.51,252.27 L284.16,251.13 L285.81,249.98 L287.46,248.84 L289.11,247.70 L290.76,246.56 L292.41,245.43 L294.06,244.29 L295.71,243.15 L297.36,242.01 L299.01,240.87 L300.66,239.74 L302.31,238.60 L303.96,237.46 L305.61,236.32 L307.26,235.18 L308.91,234.04 L310.56,232.90 L312.21,231.76 L313.86,230.62 L315.50,229.48 L317.15,228.34 L318.80,227.19 L320.45,226.05 L322.09,224.90 L323.74,223.76 L325.38,222.61 L327.03,221.47 L328.67,220.32 L330.32,219.17 L331.96,218.02 L333.60,216.88 L335.25,215.73 L336.89,214.58 L338.53,213.43 L340.18,212.28 L341.82,211.13 L343.46,209.98 L345.11,208.84 L346.75,207.69 L348.40,206.54 L350.04,205.40 L351.69,204.25 L353.33,203.11 L354.98,201.96 L356.63,200.82 L358.28,199.69 L359.93,198.55 L361.59,197.41 L363.24,196.28 L364.90,195.15 L366.55,194.02 L368.22,192.90 L369.88,191.78 L371.54,190.67 L373.21,189.55 L374.88,188.45 L376.56,187.34 L378.24,186.25 L379.92,185.16 L381.60,184.07 L383.29,182.99 L384.99,181.92 L386.69,180.86 L388.39,179.80 L390.10,178.75 L391.82,177.71 L393.54,176.68 L395.26,175.66 L397.00,174.66 L398.74,173.66 L400.48,172.68 L402.24,171.71 L404.00,170.76 L405.77,169.82 L407.55,168.90 L409.34,167.99 L411.13,167.08 L412.91,166.16 L414.67,165.22 L416.42,164.24 L418.15,163.23 L419.85,162.18 L421.54,161.11 L423.21,160.00 L424.88,158.89 L426.54,157.76 L428.18,156.61 L429.82,155.45 L431.44,154.28 L433.05,153.08 L434.63,151.85 L436.20,150.60 L437.75,149.33 L439.28,148.03 L440.79,146.72 L442.28,145.38 L443.74,144.01 L445.18,142.61 L446.58,141.19 L447.94,139.73 L449.27,138.23 L450.58,136.71 L451.85,135.17 L453.12,133.61 L454.38,132.05 L455.63,130.48 L456.88,128.92 L458.13,127.35 L459.38,125.78 L460.62,124.20 L461.85,122.62 L463.08,121.04 L464.31,119.45 L465.53,117.86 L466.75,116.27 L467.97,114.68 L469.18,113.08 L470.40,111.49 L471.62,109.89 L472.84,108.31 L474.07,106.72 L475.31,105.15 L476.57,103.59 L477.84,102.04 L479.13,100.50 L480.43,98.97 L481.74,97.46 L483.07,95.95 L484.41,94.45 L485.76,92.97 L487.12,91.50 L488.50,90.04 L489.89,88.60 L491.30,87.17 L492.71,85.75 L494.14,84.33 L495.59,82.93 L497.05,81.54 L498.52,80.16 L500.02,78.81 L501.53,77.49 L503.07,76.21 L504.63,74.96 L506.22,73.76 L507.85,72.60 L509.50,71.48 L511.19,70.40 L512.91,69.36 L514.66,68.37 L516.44,67.43 L518.25,66.56 L520.08,65.76 L521.93,65.03 L523.80,64.37 L525.70,63.78 L527.61,63.25 L529.55,62.76 L531.50,62.31 L533.47,61.90 L535.45,61.53 L537.43,61.20 L539.43,60.90 L541.42,60.64 L543.42,60.42 L545.41,60.22 L547.41,60.05 L549.41,59.90 L551.41,59.77 L553.41,59.65 L555.42,59.54 L557.42,59.43 L559.43,59.33 L561.43,59.24 L563.43,59.15 L565.44,59.06 L567.44,58.98 L569.44,58.90 L571.45,58.83 L573.45,58.76 L575.45,58.70 L577.46,58.64 L579.46,58.60 L581.47,58.55 L583.47,58.51 L585.48,58.48 L587.48,58.44 L589.49,58.42 L591.49,58.39 L593.50,58.37 L595.50,58.36 L597.51,58.34 L599.51,58.33 L601.52,58.32 L603.52,58.31 L605.53,58.31 L607.53,58.30 L609.54,58.30 L611.54,58.30 L613.55,58.30 L615.55,58.30 L617.56,58.30 L619.56,58.30 L621.57,58.30 L623.57,58.30 L625.58,58.30 L627.58,58.30 L629.59,58.30 L631.59,58.30 L633.60,58.30 L635.60,58.30 L635.60,58.30" fill="none" stroke="#000" stroke-width="8.8"/>
<line x1="123.7" y1="480" x2="123.7" y2="384" stroke="#0a50e8" stroke-width="5"/>
<polygon points="124.5,358.5 106,386 143,386" fill="#0a50e8"/>
<line x1="110.6" y1="480" x2="110.6" y2="384" stroke="#4c9a00" stroke-width="5.5"/>
<polygon points="110.8,359.3 92,386 129.5,386" fill="#4c9a00"/>
<line x1="118" y1="480.8" x2="181" y2="480.8" stroke="#4c9a00" stroke-width="5.4"/>
<polygon points="179,452.5 199.5,481 179,508.7" fill="#4c9a00"/>
<rect x="99.5" y="469.5" width="22" height="22" fill="#4c9a00"/>
<line x1="474" y1="481" x2="474" y2="384" stroke="#cc1a00" stroke-width="5"/>
<polygon points="474.3,359 454.6,385.6 492.8,385.6" fill="#cc1a00"/>
<rect x="447.6" y="476.6" width="20" height="8.4" fill="#cc1a00"/>
<circle cx="474" cy="481" r="13.5" fill="#cc1a00"/>
<line x1="480" y1="481" x2="516" y2="481" stroke="#cc1a00" stroke-width="5"/>
<polygon points="515,476.5 541,478 541,489 515,486" fill="#cc1a00"/>
<polygon points="540,452.6 560.3,480.5 540,508.9" fill="#cc1a00"/>
<polygon points="577.7,473.2 593.6,473.2 592.1,480.5 576.1,480.5" fill="#cc1a00"/>
<polygon points="582.1,489.2 614.3,494.7 613.2,502.9 580.5,498.5" fill="#cc1a00"/>
<text x="536" y="48.8" font-size="33" font-weight="bold" font-style="italic" fill="#000">QEPS</text>
<text x="603" y="235.5" font-size="33" font-weight="bold" font-style="italic" fill="#0a50e8">Q</text>
<text x="604" y="323.5" font-size="33" font-weight="bold" font-style="italic" fill="#4c9a00">E</text>
<text x="604.5" y="405.8" font-size="33" font-weight="bold" font-style="italic" fill="#cc1a00">P</text>
<text x="605" y="487" font-size="33" font-weight="bold" font-style="italic" fill="#cc1a00">S</text>
<line x1="757" y1="2" x2="757" y2="551.5" stroke="#231f20" stroke-width="3.4"/>
<line x1="755.3" y1="549.8" x2="1388" y2="549.8" stroke="#231f20" stroke-width="3.5"/>
<text x="741.3" y="559.6" text-anchor="end" font-size="30" fill="#000">0</text>
<line x1="757" y1="492.2" x2="765.2" y2="492.2" stroke="#231f20" stroke-width="3"/>
<text x="741.3" y="502.8" text-anchor="end" font-size="30" fill="#000">20</text>
<line x1="757" y1="435.4" x2="765.2" y2="435.4" stroke="#231f20" stroke-width="3"/>
<text x="741.3" y="446.0" text-anchor="end" font-size="30" fill="#000">40</text>
<line x1="757" y1="378.6" x2="765.2" y2="378.6" stroke="#231f20" stroke-width="3"/>
<text x="741.3" y="389.2" text-anchor="end" font-size="30" fill="#000">60</text>
<line x1="757" y1="321.8" x2="765.2" y2="321.8" stroke="#231f20" stroke-width="3"/>
<text x="741.3" y="332.4" text-anchor="end" font-size="30" fill="#000">80</text>
<line x1="757" y1="265.0" x2="765.2" y2="265.0" stroke="#231f20" stroke-width="3"/>
<text x="741.3" y="275.6" text-anchor="end" font-size="30" fill="#000">100</text>
<line x1="757" y1="208.2" x2="765.2" y2="208.2" stroke="#231f20" stroke-width="3"/>
<text x="741.3" y="218.8" text-anchor="end" font-size="30" fill="#000">120</text>
<line x1="757" y1="151.4" x2="765.2" y2="151.4" stroke="#231f20" stroke-width="3"/>
<text x="741.3" y="162.0" text-anchor="end" font-size="30" fill="#000">140</text>
<line x1="757" y1="94.6" x2="765.2" y2="94.6" stroke="#231f20" stroke-width="3"/>
<text x="741.3" y="105.2" text-anchor="end" font-size="30" fill="#000">160</text>
<line x1="757" y1="37.8" x2="765.2" y2="37.8" stroke="#231f20" stroke-width="3"/>
<text x="741.3" y="48.4" text-anchor="end" font-size="30" fill="#000">180</text>
<text x="757.0" y="583.6" text-anchor="middle" font-size="24" transform="translate(757.0,0) scale(1.08,1) translate(-757.0,0)" fill="#000">0</text>
<line x1="823.5" y1="541.8" x2="823.5" y2="549.8" stroke="#231f20" stroke-width="3.2"/>
<text x="823.5" y="583.6" text-anchor="middle" font-size="24" transform="translate(823.5,0) scale(1.08,1) translate(-823.5,0)" fill="#000">2</text>
<line x1="889.9" y1="541.8" x2="889.9" y2="549.8" stroke="#231f20" stroke-width="3.2"/>
<text x="889.9" y="583.6" text-anchor="middle" font-size="24" transform="translate(889.9,0) scale(1.08,1) translate(-889.9,0)" fill="#000">4</text>
<line x1="956.4" y1="541.8" x2="956.4" y2="549.8" stroke="#231f20" stroke-width="3.2"/>
<text x="956.4" y="583.6" text-anchor="middle" font-size="24" transform="translate(956.4,0) scale(1.08,1) translate(-956.4,0)" fill="#000">6</text>
<line x1="1022.8" y1="541.8" x2="1022.8" y2="549.8" stroke="#231f20" stroke-width="3.2"/>
<text x="1022.8" y="583.6" text-anchor="middle" font-size="24" transform="translate(1022.8,0) scale(1.08,1) translate(-1022.8,0)" fill="#000">8</text>
<line x1="1089.3" y1="541.8" x2="1089.3" y2="549.8" stroke="#231f20" stroke-width="3.2"/>
<text x="1089.3" y="583.6" text-anchor="middle" font-size="24" transform="translate(1089.3,0) scale(1.08,1) translate(-1089.3,0)" fill="#000">10</text>
<line x1="1155.8" y1="541.8" x2="1155.8" y2="549.8" stroke="#231f20" stroke-width="3.2"/>
<text x="1155.8" y="583.6" text-anchor="middle" font-size="24" transform="translate(1155.8,0) scale(1.08,1) translate(-1155.8,0)" fill="#000">12</text>
<line x1="1222.2" y1="541.8" x2="1222.2" y2="549.8" stroke="#231f20" stroke-width="3.2"/>
<text x="1222.2" y="583.6" text-anchor="middle" font-size="24" transform="translate(1222.2,0) scale(1.08,1) translate(-1222.2,0)" fill="#000">14</text>
<line x1="1288.7" y1="541.8" x2="1288.7" y2="549.8" stroke="#231f20" stroke-width="3.2"/>
<text x="1288.7" y="583.6" text-anchor="middle" font-size="24" transform="translate(1288.7,0) scale(1.08,1) translate(-1288.7,0)" fill="#000">16</text>
<line x1="1355.1" y1="541.8" x2="1355.1" y2="549.8" stroke="#231f20" stroke-width="3.2"/>
<text x="1355.1" y="583.6" text-anchor="middle" font-size="24" transform="translate(1355.1,0) scale(1.08,1) translate(-1355.1,0)" fill="#000">18</text>
<line x1="1155.1" y1="34.6" x2="1155.1" y2="551" stroke="#000" stroke-width="3.4"/>
<line x1="1070.3" y1="36.8" x2="1070.3" y2="549" stroke="#ff0000" stroke-width="3.6"/>
<line x1="1164.2" y1="37.4" x2="1164.2" y2="549" stroke="#ff0000" stroke-width="3.6"/>
<line x1="1244.4" y1="38.3" x2="1244.4" y2="549" stroke="#ff0000" stroke-width="3.6"/>
<path d="M1050.00,168.50 L1051.90,167.79 L1053.79,167.08 L1055.69,166.37 L1057.58,165.65 L1059.48,164.95 L1061.38,164.24 L1063.28,163.53 L1065.18,162.83 L1067.08,162.13 L1068.98,161.43 L1070.88,160.73 L1072.78,160.03 L1074.67,159.32 L1076.57,158.60 L1078.45,157.87 L1080.33,157.12 L1082.21,156.36 L1084.08,155.58 L1085.94,154.79 L1087.81,154.00 L1089.67,153.21 L1091.54,152.44 L1093.42,151.68 L1095.31,150.95 L1097.21,150.25 L1099.11,149.57 L1101.03,148.90 L1102.94,148.24 L1104.86,147.59 L1106.77,146.92 L1108.67,146.23 L1110.57,145.53 L1112.46,144.80 L1114.34,144.05 L1116.21,143.28 L1118.08,142.50 L1119.94,141.71 L1121.81,140.92 L1123.67,140.13 L1125.54,139.35 L1127.41,138.58 L1129.29,137.81 L1131.17,137.06 L1133.06,136.32 L1134.94,135.59 L1136.84,134.87 L1138.73,134.15 L1140.63,133.44 L1142.52,132.74 L1144.42,132.04 L1146.33,131.34 L1148.23,130.65 L1150.13,129.96 L1152.04,129.27 L1153.94,128.58 L1155.85,127.91 L1157.76,127.24 L1159.68,126.58 L1161.60,125.93 L1163.52,125.31 L1165.45,124.70 L1167.39,124.10 L1169.32,123.53 L1171.27,122.96 L1173.22,122.41 L1175.17,121.87 L1177.12,121.35 L1179.09,120.84 L1181.05,120.34 L1183.02,119.85 L1184.00,119.61" fill="none" stroke="#0a50e8" stroke-width="7" stroke-dasharray="5,6"/>
<path d="M1184.00,119.61 L1185.96,119.13 L1187.93,118.66 L1189.89,118.20 L1191.86,117.76 L1193.83,117.32 L1195.81,116.91 L1197.78,116.51 L1199.76,116.12 L1201.74,115.75 L1203.73,115.40 L1205.72,115.05 L1207.71,114.71 L1209.70,114.39 L1211.69,114.08 L1213.69,113.78 L1215.69,113.50 L1217.69,113.24 L1219.69,113.01 L1221.69,112.79 L1223.70,112.59 L1225.71,112.40 L1227.72,112.23 L1229.73,112.07 L1231.74,111.91 L1233.75,111.77 L1235.77,111.65 L1237.78,111.53 L1239.80,111.43 L1241.81,111.33 L1243.83,111.25 L1245.84,111.17 L1247.86,111.10 L1249.87,111.03 L1251.89,110.96 L1253.91,110.90 L1255.92,110.84 L1257.94,110.79 L1259.96,110.73 L1261.97,110.68 L1263.99,110.63 L1266.01,110.59 L1268.02,110.55 L1270.04,110.52 L1272.06,110.48 L1274.08,110.46 L1276.09,110.43 L1278.11,110.41 L1280.13,110.39 L1282.15,110.37 L1284.16,110.36 L1286.18,110.34 L1288.20,110.33 L1290.21,110.32 L1292.23,110.30 L1294.25,110.29 L1296.27,110.28 L1298.28,110.27 L1300.30,110.26 L1302.32,110.25 L1304.33,110.24 L1306.35,110.23 L1308.37,110.22 L1310.39,110.22 L1312.40,110.21 L1314.42,110.21 L1316.44,110.20 L1318.46,110.20 L1320.47,110.20 L1322.49,110.20 L1324.51,110.20 L1326.53,110.20 L1328.54,110.20 L1330.56,110.20 L1332.58,110.20 L1334.59,110.20 L1336.61,110.20 L1338.63,110.20 L1340.65,110.20 L1342.66,110.20 L1344.68,110.20 L1346.70,110.20 L1348.71,110.20 L1350.73,110.20 L1352.75,110.20 L1354.77,110.20 L1356.78,110.20 L1358.80,110.20 L1360.82,110.20 L1362.84,110.20 L1364.85,110.20 L1366.87,110.20 L1368.89,110.20 L1370.90,110.20 L1372.92,110.20 L1374.94,110.20 L1376.96,110.20 L1378.97,110.20 L1380.99,110.20 L1382.00,110.20" fill="none" stroke="#c01c00" stroke-width="7" stroke-dasharray="5,6.2"/>
<path d="M990.00,376.50 L1185.00,460.50" fill="none" stroke="#0a50e8" stroke-width="7" stroke-dasharray="5,6"/>
<path d="M1185.00,460.50 L1186.00,462.25 L1186.99,464.00 L1187.99,465.75 L1188.99,467.50 L1189.99,469.25 L1191.00,470.99 L1192.01,472.74 L1193.03,474.48 L1194.04,476.22 L1195.07,477.95 L1196.10,479.68 L1197.14,481.41 L1198.19,483.12 L1199.25,484.84 L1200.33,486.54 L1201.42,488.24 L1202.52,489.92 L1203.63,491.61 L1204.75,493.28 L1205.89,494.94 L1207.04,496.60 L1208.20,498.25 L1209.37,499.90 L1210.56,501.54 L1211.76,503.17 L1212.99,504.78 L1214.25,506.34 L1215.55,507.87 L1216.89,509.35 L1218.28,510.77 L1219.71,512.15 L1221.20,513.49 L1222.73,514.79 L1224.30,516.06 L1225.90,517.30 L1227.54,518.51 L1229.19,519.69 L1230.87,520.84 L1232.56,521.95 L1234.26,523.04 L1235.97,524.09 L1237.70,525.12 L1239.45,526.11 L1241.21,527.09 L1242.99,528.03 L1244.79,528.95 L1246.60,529.85 L1248.43,530.71 L1250.26,531.56 L1252.11,532.37 L1253.96,533.16 L1255.82,533.92 L1257.70,534.67 L1259.58,535.39 L1261.47,536.09 L1263.37,536.76 L1265.28,537.41 L1267.20,538.03 L1269.13,538.62 L1271.06,539.18 L1273.00,539.71 L1274.94,540.22 L1276.90,540.70 L1278.86,541.16 L1280.82,541.61 L1282.80,542.04 L1284.77,542.45 L1286.75,542.84 L1288.73,543.22 L1290.71,543.58 L1292.70,543.94 L1294.68,544.29 L1296.67,544.63 L1298.65,544.97 L1300.64,545.31 L1302.63,545.65 L1304.62,545.98 L1306.62,546.30 L1308.61,546.61 L1310.61,546.92 L1312.61,547.21 L1314.61,547.49 L1316.61,547.75 L1318.61,547.99 L1320.61,548.22 L1322.61,548.42 L1324.61,548.60 L1326.62,548.76 L1328.62,548.90 L1330.63,549.02 L1332.63,549.13 L1334.64,549.23 L1336.64,549.32 L1338.65,549.42 L1340.66,549.51 L1342.67,549.59 L1344.67,549.68 L1346.68,549.76 L1348.69,549.84 L1350.70,549.91 L1352.72,549.98 L1354.73,550.05 L1356.74,550.12 L1358.75,550.18 L1360.77,550.24 L1362.78,550.29 L1364.80,550.34 L1366.82,550.39 L1368.83,550.43 L1370.85,550.46 L1372.87,550.50 L1374.89,550.52 L1376.91,550.55 L1378.93,550.57 L1380.95,550.58 L1382.98,550.59 L1385.00,550.60 L1385.00,550.60" fill="none" stroke="#c01c00" stroke-width="7" stroke-dasharray="5,6"/>
<path d="M757.05,405.51 L757.49,403.56 L757.94,401.60 L758.41,399.65 L758.89,397.71 L759.39,395.77 L759.91,393.83 L760.44,391.90 L761.00,389.98 L761.57,388.06 L762.17,386.14 L762.78,384.23 L763.42,382.33 L764.07,380.44 L764.74,378.55 L765.43,376.66 L766.14,374.79 L766.87,372.92 L767.62,371.07 L768.39,369.22 L769.18,367.38 L770.00,365.55 L770.84,363.73 L771.71,361.93 L772.61,360.14 L773.54,358.36 L774.49,356.61 L775.48,354.87 L776.50,353.15 L777.55,351.45 L778.64,349.77 L779.75,348.11 L780.89,346.46 L782.06,344.83 L783.25,343.22 L784.47,341.63 L785.70,340.05 L786.95,338.48 L788.22,336.93 L789.50,335.39 L790.80,333.86 L792.11,332.35 L793.44,330.84 L794.78,329.35 L796.13,327.87 L797.50,326.40 L798.88,324.95 L800.27,323.50 L801.67,322.07 L803.08,320.65 L804.50,319.24 L805.93,317.84 L807.37,316.45 L808.82,315.07 L810.28,313.70 L811.75,312.33 L813.23,310.98 L814.72,309.64 L816.22,308.30 L817.73,306.98 L819.25,305.66 L820.77,304.35 L822.30,303.06 L823.84,301.77 L825.39,300.49 L826.94,299.22 L828.50,297.96 L830.07,296.72 L831.64,295.48 L833.22,294.26 L834.81,293.04 L836.41,291.84 L838.02,290.65 L839.64,289.47 L841.27,288.30 L842.90,287.14 L844.54,285.98 L846.18,284.83 L847.83,283.69 L849.48,282.55 L851.14,281.42 L852.79,280.29 L854.45,279.15 L856.11,278.03 L857.77,276.90 L859.43,275.77 L861.09,274.65 L862.75,273.53 L864.41,272.41 L866.07,271.29 L867.74,270.18 L869.41,269.07 L871.07,267.95 L872.74,266.84 L874.41,265.73 L876.07,264.61 L877.74,263.50 L879.40,262.38 L881.07,261.26 L882.73,260.14 L884.39,259.02 L886.05,257.90 L887.71,256.78 L889.37,255.66 L891.03,254.54 L892.70,253.41 L894.36,252.30 L896.02,251.18 L897.69,250.07 L899.36,248.95 L901.02,247.84 L902.70,246.74 L904.37,245.63 L906.04,244.53 L907.72,243.43 L909.40,242.34 L911.08,241.25 L912.76,240.16 L914.45,239.07 L916.13,237.99 L917.82,236.91 L919.52,235.84 L921.21,234.77 L922.91,233.71 L924.61,232.65 L926.31,231.59 L928.02,230.54 L929.73,229.49 L931.44,228.45 L933.16,227.41 L934.87,226.38 L936.59,225.35 L938.32,224.33 L940.04,223.31 L941.77,222.30 L943.50,221.29 L945.24,220.29 L946.98,219.29 L948.72,218.30 L950.46,217.31 L952.21,216.33 L953.96,215.36 L955.72,214.38 L957.47,213.42 L959.23,212.46 L960.99,211.50 L962.76,210.55 L964.52,209.60 L966.29,208.66 L968.06,207.73 L969.84,206.79 L971.62,205.87 L973.40,204.95 L975.18,204.04 L976.97,203.13 L978.76,202.23 L980.55,201.33 L982.35,200.44 L984.15,199.56 L985.95,198.69 L987.75,197.82 L989.56,196.95 L991.37,196.09 L993.18,195.23 L994.99,194.37 L996.80,193.50 L998.61,192.64 L1000.42,191.78 L1002.22,190.91 L1004.03,190.04 L1005.83,189.17 L1007.64,188.30 L1009.44,187.42 L1011.24,186.55 L1013.05,185.67 L1014.85,184.79 L1016.65,183.91 L1018.45,183.03 L1020.25,182.14 L1022.05,181.26 L1023.84,180.38 L1025.64,179.49 L1027.44,178.60 L1029.24,177.72 L1031.04,176.84 L1032.84,175.97 L1034.65,175.10 L1036.46,174.24 L1038.28,173.40 L1040.10,172.57 L1041.93,171.74 L1043.76,170.93 L1045.59,170.14 L1047.44,169.35 L1049.28,168.57 L1051.13,167.79 L1052.98,167.02 L1054.83,166.25 L1056.68,165.48 L1058.53,164.71 L1060.39,163.94 L1062.24,163.17 L1064.08,162.39 L1065.93,161.61 L1067.78,160.83 L1069.62,160.04 L1071.46,159.25 L1073.29,158.44 L1075.12,157.62 L1076.94,156.79 L1078.76,155.94 L1080.56,155.08 L1082.36,154.20 L1084.15,153.30 L1085.93,152.39 L1087.71,151.47 L1089.48,150.53 L1091.25,149.58 L1093.01,148.62 L1094.77,147.66 L1096.53,146.69 L1098.28,145.72 L1100.03,144.75 L1101.78,143.78 L1103.53,142.80 L1105.28,141.82 L1107.03,140.84 L1108.78,139.86 L1110.52,138.87 L1112.27,137.89 L1114.02,136.90 L1115.76,135.92 L1117.51,134.93 L1119.26,133.95 L1121.00,132.97 L1122.75,131.99 L1124.50,131.01 L1126.25,130.03 L1128.00,129.05 L1129.75,128.06 L1131.49,127.07 L1133.23,126.07 L1134.96,125.06 L1136.68,124.04 L1138.39,123.00 L1140.09,121.94 L1141.77,120.86 L1143.45,119.77 L1145.11,118.66 L1146.77,117.54 L1148.43,116.41 L1150.08,115.27 L1151.73,114.14 L1153.39,113.01 L1155.05,111.89 L1156.72,110.78 L1158.40,109.69 L1160.09,108.61 L1161.78,107.54 L1163.49,106.48 L1165.20,105.45 L1166.92,104.42 L1168.66,103.42 L1170.40,102.43 L1172.15,101.46 L1173.91,100.51 L1175.68,99.57 L1177.46,98.64 L1179.24,97.73 L1181.03,96.82 L1182.83,95.93 L1184.63,95.04 L1186.43,94.16 L1188.24,93.29 L1190.06,92.44 L1191.88,91.61 L1193.71,90.79 L1195.55,90.00 L1197.39,89.23 L1199.25,88.49 L1201.12,87.78 L1203.00,87.09 L1204.88,86.43 L1206.78,85.79 L1208.69,85.17 L1210.60,84.57 L1212.52,84.00 L1214.45,83.44 L1216.38,82.91 L1218.32,82.39 L1220.26,81.89 L1222.20,81.41 L1224.16,80.95 L1226.11,80.51 L1228.07,80.09 L1230.03,79.68 L1232.00,79.29 L1233.97,78.92 L1235.94,78.57 L1237.91,78.24 L1239.89,77.93 L1241.87,77.63 L1243.86,77.35 L1245.84,77.08 L1247.83,76.83 L1249.82,76.59 L1251.81,76.36 L1253.81,76.15 L1255.80,75.95 L1257.80,75.76 L1259.79,75.58 L1261.79,75.41 L1263.79,75.25 L1265.78,75.10 L1267.78,74.96 L1269.78,74.82 L1271.78,74.70 L1273.79,74.59 L1275.79,74.48 L1277.79,74.39 L1279.79,74.30 L1281.79,74.21 L1283.79,74.14 L1285.80,74.06 L1287.80,73.99 L1289.80,73.93 L1291.81,73.86 L1293.81,73.80 L1295.81,73.75 L1297.82,73.69 L1299.82,73.64 L1301.82,73.59 L1303.83,73.55 L1305.83,73.51 L1307.84,73.47 L1309.84,73.43 L1311.84,73.40 L1313.85,73.38 L1315.85,73.36 L1317.86,73.34 L1319.86,73.32 L1321.86,73.31 L1323.87,73.30 L1325.87,73.29 L1327.88,73.28 L1329.88,73.28 L1331.88,73.27 L1333.89,73.27 L1335.89,73.26 L1337.90,73.26 L1339.90,73.25 L1341.90,73.25 L1343.91,73.24 L1345.91,73.24 L1347.92,73.24 L1349.92,73.23 L1351.92,73.23 L1353.93,73.23 L1355.93,73.22 L1357.94,73.22 L1359.94,73.22 L1361.95,73.22 L1363.95,73.21 L1365.95,73.21 L1367.96,73.21 L1369.96,73.21 L1371.97,73.21 L1373.97,73.20 L1375.98,73.20 L1377.98,73.20 L1379.98,73.20 L1381.99,73.20 L1383.99,73.20 L1386.00,73.20 L1387.00,73.20" fill="none" stroke="#000" stroke-width="8"/>
<path d="M779.20,4.00 L779.40,5.99 L779.61,7.99 L779.81,9.98 L780.01,11.98 L780.21,13.97 L780.41,15.96 L780.60,17.96 L780.80,19.95 L780.99,21.95 L781.19,23.94 L781.38,25.94 L781.57,27.93 L781.76,29.93 L781.95,31.92 L782.13,33.92 L782.32,35.91 L782.50,37.91 L782.68,39.90 L782.86,41.90 L783.04,43.89 L783.22,45.89 L783.39,47.89 L783.56,49.88 L783.73,51.88 L783.90,53.88 L784.06,55.87 L784.22,57.87 L784.38,59.87 L784.54,61.87 L784.70,63.86 L784.85,65.86 L785.01,67.86 L785.16,69.86 L785.32,71.86 L785.47,73.85 L785.63,75.85 L785.79,77.85 L785.95,79.85 L786.11,81.84 L786.27,83.84 L786.43,85.84 L786.60,87.83 L786.77,89.83 L786.95,91.83 L787.12,93.82 L787.30,95.82 L787.49,97.81 L787.67,99.81 L787.86,101.80 L788.04,103.80 L788.23,105.79 L788.42,107.79 L788.62,109.78 L788.81,111.78 L789.01,113.77 L789.21,115.77 L789.41,117.76 L789.61,119.75 L789.82,121.75 L790.02,123.74 L790.23,125.74 L790.44,127.73 L790.65,129.72 L790.86,131.71 L791.07,133.71 L791.29,135.70 L791.50,137.69 L791.72,139.68 L791.94,141.67 L792.16,143.67 L792.39,145.66 L792.61,147.65 L792.84,149.64 L793.07,151.63 L793.30,153.62 L793.53,155.61 L793.77,157.60 L794.01,159.59 L794.25,161.58 L794.49,163.57 L794.74,165.56 L794.99,167.55 L795.24,169.54 L795.49,171.52 L795.75,173.51 L796.01,175.50 L796.27,177.48 L796.53,179.47 L796.80,181.46 L797.06,183.44 L797.33,185.43 L797.60,187.42 L797.86,189.41 L798.14,191.39 L798.41,193.38 L798.69,195.37 L798.97,197.35 L799.26,199.34 L799.56,201.32 L799.86,203.30 L800.17,205.28 L800.49,207.26 L800.82,209.24 L801.16,211.21 L801.51,213.18 L801.88,215.14 L802.26,217.11 L802.67,219.07 L803.10,221.02 L803.55,222.97 L804.02,224.92 L804.50,226.87 L805.00,228.81 L805.51,230.75 L806.03,232.69 L806.56,234.62 L807.11,236.55 L807.68,238.47 L808.25,240.39 L808.84,242.30 L809.44,244.22 L810.04,246.13 L810.65,248.04 L811.25,249.96 L811.86,251.87 L812.47,253.78 L813.08,255.69 L813.71,257.60 L814.35,259.50 L815.00,261.40 L815.67,263.29 L816.35,265.17 L817.06,267.04 L817.79,268.90 L818.55,270.75 L819.33,272.59 L820.15,274.43 L820.99,276.25 L821.87,278.06 L822.78,279.85 L823.72,281.62 L824.70,283.36 L825.72,285.07 L826.78,286.76 L827.90,288.42 L829.05,290.07 L830.24,291.69 L831.45,293.29 L832.67,294.88 L833.92,296.45 L835.19,298.00 L836.48,299.53 L837.80,301.04 L839.15,302.53 L840.52,303.99 L841.91,305.43 L843.34,306.85 L844.79,308.23 L846.28,309.57 L847.80,310.86 L849.36,312.11 L850.95,313.32 L852.57,314.48 L854.23,315.62 L855.90,316.73 L857.60,317.81 L859.31,318.87 L861.03,319.90 L862.76,320.90 L864.51,321.88 L866.27,322.83 L868.04,323.76 L869.83,324.67 L871.63,325.57 L873.43,326.45 L875.23,327.33 L877.04,328.19 L878.85,329.04 L880.67,329.88 L882.49,330.72 L884.32,331.54 L886.15,332.36 L887.98,333.17 L889.82,333.97 L891.65,334.77 L893.49,335.57 L895.34,336.36 L897.18,337.15 L899.02,337.94 L900.87,338.73 L902.71,339.52 L904.55,340.31 L906.39,341.09 L908.24,341.88 L910.08,342.66 L911.93,343.44 L913.78,344.21 L915.62,344.99 L917.47,345.76 L919.32,346.53 L921.17,347.30 L923.02,348.07 L924.87,348.84 L926.72,349.62 L928.57,350.39 L930.42,351.17 L932.26,351.95 L934.11,352.73 L935.95,353.51 L937.80,354.29 L939.64,355.08 L941.48,355.87 L943.33,356.65 L945.17,357.44 L947.01,358.23 L948.86,359.01 L950.70,359.79 L952.55,360.58 L954.39,361.35 L956.24,362.13 L958.09,362.91 L959.94,363.68 L961.78,364.46 L963.63,365.23 L965.48,366.01 L967.33,366.79 L969.17,367.57 L971.02,368.35 L972.86,369.14 L974.70,369.93 L976.54,370.73 L978.37,371.53 L980.20,372.35 L982.03,373.17 L983.85,374.01 L985.67,374.85 L987.49,375.70 L989.31,376.55 L991.13,377.40 L992.94,378.25 L994.76,379.09 L996.58,379.92 L998.41,380.75 L1000.24,381.56 L1002.08,382.36 L1003.92,383.14 L1005.77,383.91 L1007.62,384.66 L1009.48,385.41 L1011.34,386.16 L1013.21,386.90 L1015.08,387.64 L1016.95,388.37 L1018.83,389.08 L1020.71,389.79 L1022.60,390.47 L1024.49,391.14 L1026.39,391.78 L1028.29,392.40 L1030.20,393.00 L1032.12,393.57 L1034.04,394.12 L1035.97,394.67 L1037.91,395.21 L1039.86,395.74 L1041.81,396.24 L1043.78,396.69 L1045.74,397.05 L1047.72,397.32 L1049.70,397.49 L1051.69,397.59 L1053.69,397.64 L1055.70,397.66 L1057.71,397.68 L1059.71,397.67 L1061.71,397.64 L1063.70,397.54 L1065.68,397.35 L1067.66,397.05 L1069.63,396.66 L1071.59,396.18 L1073.54,395.63 L1075.48,395.05 L1077.40,394.43 L1079.30,393.79 L1081.18,393.12 L1083.04,392.40 L1084.89,391.61 L1086.71,390.76 L1088.51,389.85 L1090.28,388.91 L1092.03,387.93 L1093.75,386.91 L1095.45,385.85 L1097.13,384.74 L1098.78,383.58 L1100.41,382.39 L1101.99,381.16 L1103.53,379.88 L1105.02,378.57 L1106.46,377.21 L1107.85,375.80 L1109.20,374.33 L1110.52,372.83 L1111.83,371.29 L1113.12,369.74 L1114.41,368.19 L1115.71,366.65 L1117.03,365.13 L1118.37,363.63 L1119.71,362.14 L1121.07,360.66 L1122.43,359.18 L1123.81,357.72 L1125.19,356.27 L1126.59,354.84 L1128.02,353.43 L1129.46,352.05 L1130.93,350.70 L1132.43,349.36 L1133.94,348.05 L1135.48,346.76 L1137.05,345.49 L1138.63,344.26 L1140.24,343.05 L1141.88,341.85 L1143.54,340.65 L1145.24,339.47 L1146.96,338.40 L1148.73,337.57 L1150.54,337.10 L1152.39,337.04 L1154.29,337.34 L1156.19,337.92 L1158.05,338.69 L1159.83,339.61 L1161.52,340.65 L1163.12,341.84 L1164.64,343.16 L1166.10,344.56 L1167.48,346.03 L1168.79,347.54 L1170.05,349.10 L1171.25,350.70 L1172.41,352.35 L1173.52,354.03 L1174.59,355.73 L1175.63,357.45 L1176.64,359.18 L1177.61,360.93 L1178.56,362.70 L1179.47,364.48 L1180.36,366.29 L1181.22,368.10 L1182.05,369.92 L1182.86,371.76 L1183.63,373.60 L1184.38,375.46 L1185.10,377.33 L1185.80,379.20 L1186.49,381.09 L1187.18,382.97 L1187.86,384.86 L1188.55,386.74 L1189.24,388.63 L1189.94,390.51 L1190.64,392.38 L1191.34,394.26 L1192.04,396.14 L1192.74,398.01 L1193.45,399.89 L1194.16,401.76 L1194.87,403.64 L1195.59,405.51 L1196.32,407.37 L1197.05,409.24 L1197.79,411.10 L1198.52,412.97 L1199.25,414.83 L1199.98,416.70 L1200.68,418.58 L1201.38,420.46 L1202.05,422.34 L1202.71,424.24 L1203.34,426.14 L1203.97,428.04 L1204.59,429.95 L1205.21,431.85 L1205.84,433.76 L1206.48,435.66 L1207.14,437.55 L1207.82,439.43 L1208.52,441.31 L1209.24,443.17 L1209.98,445.03 L1210.74,446.89 L1211.51,448.74 L1212.29,450.59 L1213.09,452.43 L1213.89,454.26 L1214.71,456.10 L1215.53,457.93 L1216.35,459.75 L1217.19,461.57 L1218.03,463.39 L1218.89,465.20 L1219.75,467.01 L1220.63,468.82 L1221.51,470.61 L1222.41,472.41 L1223.31,474.20 L1224.22,475.98 L1225.15,477.76 L1226.08,479.53 L1227.02,481.30 L1227.97,483.07 L1228.93,484.83 L1229.90,486.58 L1230.88,488.33 L1231.88,490.07 L1232.88,491.81 L1233.91,493.53 L1234.94,495.25 L1235.99,496.95 L1237.04,498.66 L1238.11,500.36 L1239.19,502.06 L1240.28,503.76 L1241.39,505.44 L1242.52,507.11 L1243.68,508.75 L1244.86,510.37 L1246.06,511.96 L1247.31,513.51 L1248.59,515.04 L1249.91,516.53 L1251.28,518.01 L1252.68,519.45 L1254.13,520.86 L1255.62,522.22 L1257.15,523.52 L1258.71,524.75 L1260.32,525.91 L1261.97,527.00 L1263.67,528.04 L1265.42,529.03 L1267.20,529.97 L1269.01,530.87 L1270.83,531.73 L1272.66,532.56 L1274.50,533.35 L1276.35,534.12 L1278.21,534.87 L1280.08,535.59 L1281.97,536.29 L1283.86,536.96 L1285.77,537.60 L1287.68,538.21 L1289.60,538.79 L1291.52,539.34 L1293.45,539.85 L1295.39,540.34 L1297.34,540.81 L1299.29,541.26 L1301.25,541.69 L1303.22,542.10 L1305.19,542.48 L1307.16,542.84 L1309.14,543.18 L1311.11,543.50 L1313.09,543.80 L1315.07,544.10 L1317.05,544.38 L1319.04,544.66 L1321.02,544.94 L1323.01,545.20 L1325.00,545.46 L1326.99,545.71 L1328.98,545.95 L1330.98,546.18 L1332.97,546.40 L1334.97,546.60 L1336.97,546.80 L1338.96,546.99 L1340.96,547.16 L1342.96,547.32 L1344.96,547.46 L1346.96,547.60 L1348.95,547.72 L1350.95,547.83 L1352.95,547.95 L1354.95,548.06 L1356.95,548.16 L1358.95,548.27 L1360.95,548.37 L1362.95,548.46 L1364.95,548.56 L1366.95,548.64 L1368.95,548.72 L1370.96,548.80 L1372.96,548.86 L1374.97,548.92 L1376.97,548.98 L1378.98,549.02 L1380.98,549.05 L1382.99,549.07 L1385.00,549.09 L1386.00,549.10" fill="none" stroke="#000" stroke-width="8" stroke-linecap="butt"/>
<circle cx="1386" cy="549.1" r="4" fill="#000"/>
<text x="843.5" y="150.4" font-size="29" fill="#000">Height</text>
<text x="843.5" y="180" font-size="24.5" fill="#000">(cm)</text>
<line x1="939" y1="157.7" x2="965" y2="169.5" stroke="#000" stroke-width="4.5"/>
<polygon points="993.6,182.7 962.7,158.4 954.3,175.3" fill="#000"/>
<text x="777" y="424.4" font-size="29" fill="#000">Height velocity</text>
<text x="777" y="454.3" font-size="24.5" fill="#000">(mm/year)</text>
<line x1="887" y1="396" x2="920" y2="384" stroke="#000" stroke-width="4.5"/>
<polygon points="952.2,373.4 914.5,377.2 920.5,394.3" fill="#000"/>
<line x1="1263.5" y1="79" x2="1265" y2="107.4" stroke="#ff0000" stroke-width="3.6"/>
<line x1="1267" y1="91.2" x2="1324.4" y2="91.2" stroke="#ff0000" stroke-width="3.4"/>
<text x="1325.2" y="100.6" font-size="29.3" fill="#ff0000">Pmax</text>
<text x="934.2" y="499.8" font-size="25" fill="#ff0000">AgeP5</text>
<rect x="1012.3" y="487.6" width="25" height="3.6" fill="#f07070" stroke="#ff0000" stroke-width="1.1"/>
<polygon points="1037,486.2 1062.7,489.3 1037,492.4" fill="#fff" stroke="#ff0000" stroke-width="1.3"/>
<text x="640" y="634.2" font-size="29.3" fill="#000">Age (years )</text>
</svg>
</body></html>
